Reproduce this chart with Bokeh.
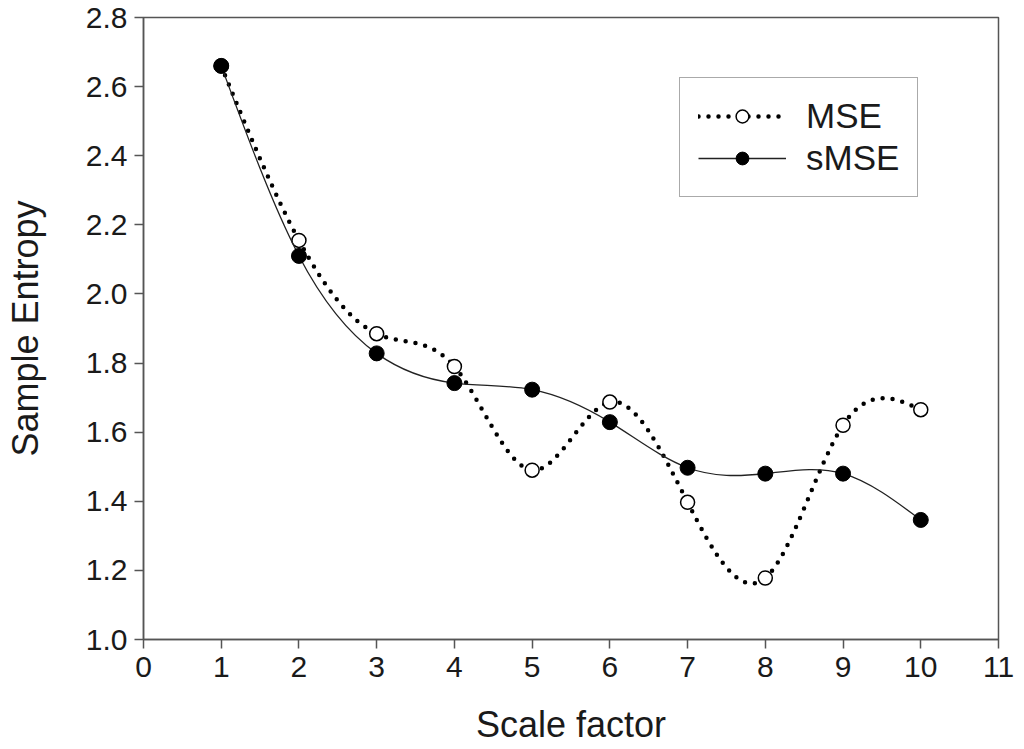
import numpy as np
from bokeh.plotting import figure
from bokeh.models import Range1d, FixedTicker, PrintfTickFormatter, Legend, LegendItem, ColumnDataSource
from bokeh.embed import file_html
from bokeh.resources import INLINE

# Values
scale_factor = [1, 2, 3, 4, 5, 6, 7, 8, 9, 10]
mse = [2.66, 2.155, 1.885, 1.79, 1.49, 1.687, 1.397, 1.178, 1.62, 1.665]
smse = [2.66, 2.11, 1.828, 1.742, 1.723, 1.629, 1.497, 1.48, 1.48, 1.346]
x_ticks = [0, 1, 2, 3, 4, 5, 6, 7, 8, 9, 10, 11]
y_ticks = [1.0, 1.2, 1.4, 1.6, 1.8, 2.0, 2.2, 2.4, 2.6, 2.8]

FONT = "Liberation Sans"
AXIS_GRAY = "#555555"


def spline_segments(xs, ys):
    """
    Bezier control points of a natural cubic spline through the data points,
    so the connecting curve is drawn by Bokeh's bezier glyph.
    """
    x = np.asarray(xs, dtype=float)
    y = np.asarray(ys, dtype=float)
    n = len(x)
    h = np.diff(x)

    # second derivatives with natural end conditions
    A = np.zeros((n, n))
    b = np.zeros(n)
    A[0, 0] = A[-1, -1] = 1.0
    for i in range(1, n - 1):
        A[i, i - 1] = h[i - 1]
        A[i, i] = 2 * (h[i - 1] + h[i])
        A[i, i + 1] = h[i]
        b[i] = 6 * ((y[i + 1] - y[i]) / h[i] - (y[i] - y[i - 1]) / h[i - 1])
    m = np.linalg.solve(A, b)

    # slopes at the knots
    d = np.empty(n)
    d[:-1] = (y[1:] - y[:-1]) / h - h * (2 * m[:-1] + m[1:]) / 6
    d[-1] = (y[-1] - y[-2]) / h[-1] + h[-1] * (m[-2] + 2 * m[-1]) / 6

    return ColumnDataSource(dict(
        x0=x[:-1], y0=y[:-1], x1=x[1:], y1=y[1:],
        cx0=x[:-1] + h / 3, cy0=y[:-1] + h * d[:-1] / 3,
        cx1=x[1:] - h / 3, cy1=y[1:] - h * d[1:] / 3,
    ))


def create_plot():
    p = figure(width=1016, height=747,
               x_range=Range1d(0, 11), y_range=Range1d(1.0, 2.8),
               output_backend="svg", toolbar_location=None, tools="",
               min_border_left=143, min_border_right=18,
               min_border_top=17, min_border_bottom=100)

    p.grid.visible = False
    p.outline_line_color = AXIS_GRAY
    p.outline_line_width = 1.5

    # axes
    p.xaxis.ticker = FixedTicker(ticks=x_ticks)
    p.yaxis.ticker = FixedTicker(ticks=y_ticks)
    p.yaxis.formatter = PrintfTickFormatter(format="%.1f")
    for ax in (p.xaxis, p.yaxis):
        ax.axis_line_color = AXIS_GRAY
        ax.axis_line_width = 1.5
        ax.major_tick_line_color = AXIS_GRAY
        ax.major_tick_line_width = 1.5
        ax.major_tick_out = 9
        ax.major_tick_in = 0
        ax.minor_tick_line_color = None
        ax.major_label_text_font = FONT
        ax.major_label_text_font_size = "30px"
        ax.major_label_text_color = "#1a1a1a"
        ax.axis_label_text_font = FONT
        ax.axis_label_text_font_size = "36px"
        ax.axis_label_text_font_style = "normal"
        ax.axis_label_text_color = "#1a1a1a"
    p.xaxis.axis_label = "Scale factor"
    p.yaxis.axis_label = "Sample Entropy"
    p.xaxis.major_label_standoff = 8
    p.xaxis.axis_label_standoff = 24
    p.yaxis.major_label_standoff = 7
    p.yaxis.axis_label_standoff = 37

    # MSE: dotted spline with open circles
    mse_curve = p.bezier(x0="x0", y0="y0", x1="x1", y1="y1",
                         cx0="cx0", cy0="cy0", cx1="cx1", cy1="cy1",
                         source=spline_segments(scale_factor, mse),
                         line_color="black", line_width=4.5, line_dash="0 10", line_cap="round")
    mse_pts = p.scatter(scale_factor, mse, size=14, fill_color="white",
                        line_color="black", line_width=1.5)

    # sMSE: thin solid spline with filled circles
    smse_curve = p.bezier(x0="x0", y0="y0", x1="x1", y1="y1",
                          cx0="cx0", cy0="cy0", cx1="cx1", cy1="cy1",
                          source=spline_segments(scale_factor, smse),
                          line_color="#222222", line_width=1.3)
    smse_pts = p.scatter(scale_factor, smse, size=15, fill_color="black", line_color="black")

    legend = Legend(items=[LegendItem(label="MSE", renderers=[mse_curve, mse_pts]),
                           LegendItem(label="sMSE", renderers=[smse_curve, smse_pts])],
                    location=(536, 442))
    legend.margin = 0
    legend.padding = 18
    legend.spacing = 2
    legend.glyph_width = 88
    legend.glyph_height = 32
    legend.label_height = 32
    legend.label_standoff = 20
    legend.label_text_font = FONT
    legend.label_text_font_size = "35px"
    legend.label_text_color = "#1a1a1a"
    legend.border_line_color = AXIS_GRAY
    legend.border_line_width = 1.5
    legend.background_fill_alpha = 1.0
    p.add_layout(legend)
    return p


def main():
    p = create_plot()
    open("out.html", "w").write(file_html(p, INLINE))


if __name__ == "__main__":
    main()
